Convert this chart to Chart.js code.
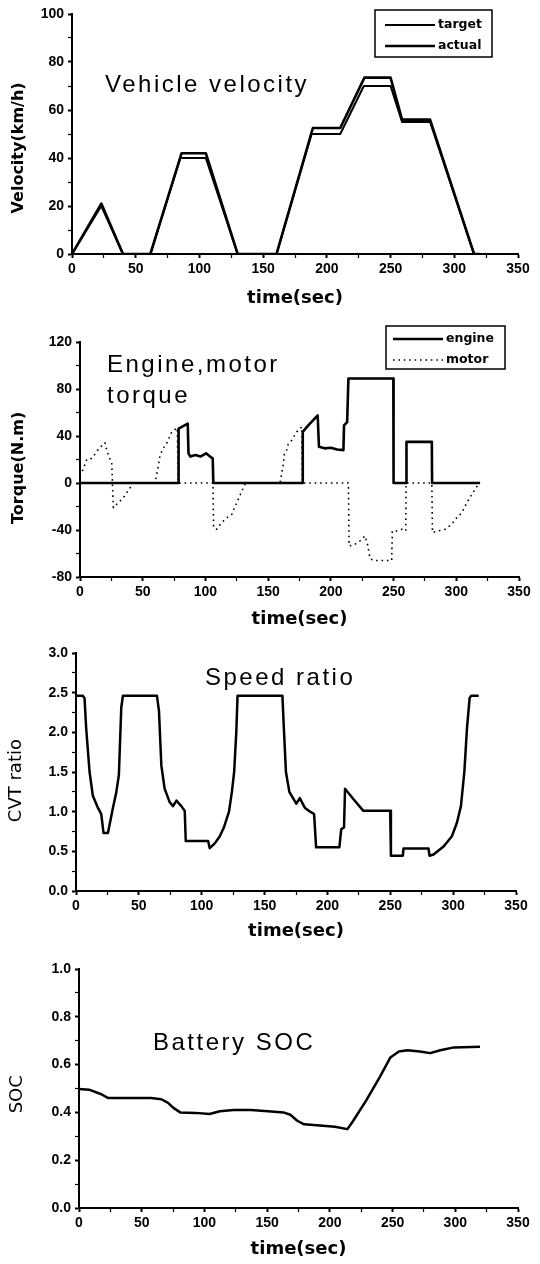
<!DOCTYPE html>
<html lang="en">
<head>
<meta charset="UTF-8">
<title>HEV simulation results</title>
<script src="https://cdn.jsdelivr.net/npm/chart.js"></script>
<style>
  * { margin: 0; padding: 0; box-sizing: border-box; }
  body { width: 540px; height: 1264px; background: #fff; position: relative; overflow: hidden; }
  canvas { position: absolute; left: 0; }
</style>
</head>
<body>
<canvas id="velocity-chart" width="540" height="311" style="top:0px"></canvas>
<canvas id="torque-chart" width="540" height="321" style="top:311px"></canvas>
<canvas id="ratio-chart" width="540" height="312" style="top:632px"></canvas>
<canvas id="soc-chart" width="540" height="318" style="top:944px"></canvas>

<script>
// ---- data (time in sec) ----
const velTargetT = [0, 23, 40, 61.5, 85, 105, 130, 160.5, 188, 210.5, 229, 250, 259, 281, 315.5, 320];
const velTargetV = [0, 20, 0, 0, 40, 40, 0, 0, 50, 50, 70, 70, 55, 55, 0, 0];
const velActualT = [0, 23, 40, 61.5, 86, 105, 130, 160.5, 189, 210.5, 229.5, 250, 259, 281, 315.5, 320];
const velActualV = [0, 21, 0, 0, 42, 42, 0, 0, 52.5, 52.5, 73.5, 73.5, 56, 56, 0, 0];

const engineT = [0, 78.4, 78.6, 85.9, 86.5, 88, 92, 96, 100.5, 103.7, 105.8, 106.3, 177.3, 177.6, 182, 189.5,
  190.5, 195, 200, 205, 210, 210.5, 213, 214, 230, 249.8, 250, 260, 260.3, 270, 280.5, 280.7, 319];
const engineV = [0, 0, 46.3, 50.5, 25.3, 22.5, 23.8, 22.5, 25.3, 22.5, 21, 0, 0, 43.5, 49, 57.5,
  30.8, 29.5, 30, 28.5, 28, 49, 51.9, 89, 89, 89, 0, 0, 35, 35, 35, 0, 0];

const motorT = [0, 2.6, 5.3, 8, 12, 15.2, 19.9, 21.3, 22.6, 25.3, 25.8, 26.6, 30.5, 34.5, 39.9, 42,
  59.8, 62.4, 63.8, 66.4, 69.1, 73.1, 77.5, 78.4, 106, 106.5, 109, 113, 117, 121, 125, 129, 132,
  159.5, 162, 163, 164.8, 166, 168.8, 172.8, 176.8, 177.3, 214, 214.5, 218, 223.3, 227.3, 229.4,
  231.3, 235, 248.5, 249, 252.6, 256.6, 259.7, 260, 280.5, 281, 285.8, 291, 296.4, 300.4, 304.4,
  308.4, 312.4, 315.6, 318];
const motorV = [6, 12, 19.6, 19.6, 24.7, 29.5, 34.2, 28, 23.8, 16.8, 2, -21, -16.8, -12.6, -4.2, 0,
  0, 14, 23.8, 29.5, 33.7, 43.5, 47, 0, 0, -38, -39.3, -33.7, -29.5, -26.7, -16.8, -7, 0,
  0, 15.4, 25, 28, 33, 36.4, 43.5, 47.7, 0, 0, -53.4, -53, -49.2, -45, -53,
  -64.6, -66, -66, -40.8, -40.8, -39.4, -40.8, 0, 0, -42.1, -40.8, -39.4, -35.1, -29.5, -25.3,
  -16.8, -9.8, -4.2, -1];

const ratioT = [0, 5.4, 6.8, 8.1, 10.8, 13.4, 17.4, 20.1, 21.9, 25.4, 29.4, 32, 34.1, 36, 37.3, 64.4,
  66, 67.9, 70.5, 74.5, 77.2, 79.9, 82, 83.8, 86.5, 87.3, 105.1, 106.4, 110.4, 114.4, 117.6, 121.7,
  124, 125.8, 127.5, 128.5, 164.2, 165.5, 167, 169.7, 175.2, 178, 182, 186.2, 189.4, 191, 209.5,
  211, 213.2, 214, 220.6, 228.6, 249.9, 250.5, 260, 260.5, 280.4, 281.2, 284.4, 292.4, 299, 303,
  306.2, 308.9, 311, 313.1, 314.2, 320.3];
const ratioV = [2.46, 2.46, 2.43, 2.05, 1.5, 1.2, 1.05, 0.97, 0.73, 0.73, 1.05, 1.24, 1.46, 2.31, 2.46, 2.46,
  2.27, 1.58, 1.29, 1.12, 1.07, 1.14, 1.1, 1.07, 1.01, 0.63, 0.63, 0.54, 0.6, 0.69, 0.8, 1.0,
  1.25, 1.5, 2.0, 2.46, 2.46, 2.0, 1.5, 1.25, 1.1, 1.17, 1.05, 1.0, 0.97, 0.55, 0.55,
  0.78, 0.8, 1.29, 1.16, 1.01, 1.01, 0.445, 0.445, 0.535, 0.535, 0.445, 0.46, 0.56, 0.69, 0.86,
  1.07, 1.5, 2.05, 2.43, 2.46, 2.46];

const socT = [0, 8, 17.8, 23.3, 57.4, 65.6, 71, 75, 80.7, 93, 104, 112.3, 123.3, 137, 150.8, 163,
  168.5, 174, 179.5, 192, 204, 214, 218, 229, 240, 248.3, 255, 262, 271.7, 280, 288, 299, 319.7];
const socV = [0.498, 0.495, 0.476, 0.46, 0.46, 0.455, 0.44, 0.42, 0.40, 0.398, 0.393, 0.405, 0.41, 0.41, 0.405, 0.40,
  0.39, 0.365, 0.35, 0.345, 0.34, 0.33, 0.36, 0.45, 0.55, 0.63, 0.655, 0.66, 0.655, 0.648, 0.66, 0.672, 0.675];

// ---- helpers ----
const SANS = '"Liberation Sans", Arial, sans-serif';
const WIDE = '"DejaVu Sans", sans-serif';

const pts = (ts, vs) => ts.map((t, i) => ({ x: t, y: vs[i] }));

function isMajor(v, step) {
  const k = v / step;
  return Math.abs(k - Math.round(k)) < 1e-6;
}

function xAxis(height) {
  return {
    type: 'linear', min: 0, max: 350,
    afterFit: s => { s.height = height; },
    border: { display: true, color: '#000', width: 2 },
    grid: {
      drawOnChartArea: false, tickLength: 4, tickColor: '#000',
      tickWidth: c => isMajor(c.tick.value, 50) ? 2 : 1.2
    },
    ticks: {
      stepSize: 25, autoSkip: false, maxRotation: 0, padding: 3, color: '#000',
      font: { family: SANS, size: 14, weight: 'bold' },
      callback: v => isMajor(v, 50) ? String(v) : ''
    },
    title: {
      display: true, text: 'time(sec)', color: '#000',
      font: { family: WIDE, size: 18, weight: 'bold' }, padding: { top: 0, bottom: 2 }
    }
  };
}

function yAxis(o) {
  return {
    min: o.min, max: o.max,
    afterFit: s => { s.width = o.width; },
    border: { display: true, color: '#000', width: 2 },
    grid: {
      drawOnChartArea: false, tickLength: 4, tickColor: '#000',
      tickWidth: c => isMajor(c.tick.value, o.major) ? 2 : 1.2
    },
    ticks: {
      stepSize: o.minor, autoSkip: false, padding: 4, color: '#000',
      font: { family: SANS, size: 14, weight: 'bold' },
      callback: v => isMajor(v, o.major) ? v.toFixed(o.digits) : ''
    },
    title: {
      // trailing spaces nudge the rotated title a bit lower, like the original
      display: true, text: o.title + ' '.repeat(o.shift || 0), color: '#000',
      font: { family: WIDE, size: o.titleSize, weight: o.titleWeight },
      padding: { top: o.titlePad, bottom: 0 }
    }
  };
}

// caption inside the plot and the boxed legend
const annotate = {
  id: 'annotate',
  afterDraw(chart, args, opts) {
    const ctx = chart.ctx;
    ctx.save();
    ctx.fillStyle = '#000';
    ctx.strokeStyle = '#000';
    ctx.textBaseline = 'middle';
    ctx.font = '24px ' + SANS;
    ctx.letterSpacing = '2.5px';
    (opts.caption || []).forEach(c => ctx.fillText(c.text, c.x, c.y));
    ctx.letterSpacing = '0px';
    const lg = opts.legend;
    if (lg) {
      ctx.lineWidth = 1.5;
      ctx.strokeRect(lg.x, lg.y, lg.w, lg.h);
      ctx.font = 'bold 12.5px ' + WIDE;
      chart.data.datasets.forEach((ds, i) => {
        const y = lg.y + lg.rows[i];
        ctx.beginPath();
        ctx.lineWidth = ds.borderWidth;
        ctx.setLineDash(ds.borderDash || []);
        ctx.moveTo(lg.x + lg.from, y);
        ctx.lineTo(lg.x + lg.to, y);
        ctx.stroke();
        ctx.setLineDash([]);
        ctx.fillText(ds.label, lg.x + lg.text, y);
      });
    }
    ctx.restore();
  }
};

function lineSet(label, data, width, dash) {
  return {
    label, data, borderColor: '#000', borderWidth: width, borderDash: dash || [],
    pointRadius: 0, tension: 0, borderJoinStyle: 'round', fill: false
  };
}

function makeChart(id, datasets, pad, x, y, annot) {
  return new Chart(document.getElementById(id), {
    type: 'line',
    data: { datasets },
    options: {
      responsive: false, animation: false, devicePixelRatio: 1,
      layout: { padding: { left: 0, bottom: 0, top: pad.top, right: pad.right } },
      scales: { x, y },
      plugins: { legend: { display: false }, tooltip: { enabled: false }, annotate: annot }
    },
    plugins: [annotate]
  });
}

// ---- charts ----
makeChart('velocity-chart',
  [lineSet('target', pts(velTargetT, velTargetV), 2), lineSet('actual', pts(velActualT, velActualV), 2.6)],
  { top: 14, right: 22 },
  xAxis(57),
  yAxis({ min: 0, max: 100, minor: 10, major: 20, digits: 0, width: 72,
          title: 'Velocity(km/h)', titleSize: 16, titleWeight: 'bold', titlePad: 9, shift: 5 }),
  { caption: [{ text: 'Vehicle velocity', x: 105, y: 85 }],
    legend: { x: 375, y: 10, w: 117, h: 47, rows: [15, 36], from: 10, to: 60, text: 63 } });

makeChart('torque-chart',
  [lineSet('engine', pts(engineT, engineV), 2.6), lineSet('motor', pts(motorT, motorV), 1.6, [1.6, 3.8])],
  { top: 31, right: 21 },
  xAxis(55),
  yAxis({ min: -80, max: 120, minor: 20, major: 40, digits: 0, width: 80,
          title: 'Torque(N.m)', titleSize: 16, titleWeight: 'bold', titlePad: 9, shift: 3 }),
  { caption: [{ text: 'Engine,motor', x: 107, y: 54 }, { text: 'torque', x: 107, y: 85 }],
    legend: { x: 386, y: 15, w: 119, h: 43, rows: [13, 34], from: 7, to: 57, text: 60 } });

makeChart('ratio-chart',
  [lineSet('ratio', pts(ratioT, ratioV), 2.5)],
  { top: 21, right: 24 },
  xAxis(53),
  yAxis({ min: 0, max: 3, minor: 0.25, major: 0.5, digits: 1, width: 76,
          title: 'CVT ratio', titleSize: 18, titleWeight: 'normal', titlePad: 6, shift: 3 }),
  { caption: [{ text: 'Speed ratio', x: 205, y: 46 }] });

makeChart('soc-chart',
  [lineSet('SOC', pts(socT, socV), 2.5)],
  { top: 25, right: 22 },
  xAxis(54),
  yAxis({ min: 0, max: 1, minor: 0.1, major: 0.2, digits: 1, width: 79,
          title: 'SOC', titleSize: 18, titleWeight: 'normal', titlePad: 7, shift: 2 }),
  { caption: [{ text: 'Battery SOC', x: 153, y: 99 }] });
</script>
</body>
</html>
